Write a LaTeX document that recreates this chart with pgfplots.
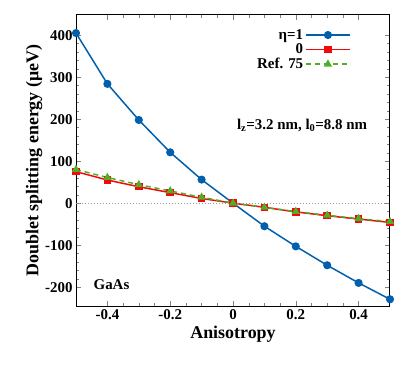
\documentclass[border=0pt]{standalone}
\usepackage{fontspec}
\setmainfont{Liberation Serif}
\usepackage{pgfplots}
\pgfplotsset{compat=1.18}
\definecolor{etaBlue}{RGB}{0,96,173}
\definecolor{zeroRed}{RGB}{240,10,10}
\definecolor{refGreen}{RGB}{80,175,40}

\begin{document}
\begin{tikzpicture}
  \begin{axis}[
      scale only axis,
      width=314bp, height=291bp,
      xmin=-0.5, xmax=0.5, ymin=-245, ymax=448,
      xtick={-0.4,-0.2,0,0.2,0.4},
      ytick={-200,-100,0,100,200,300,400},
      minor x tick num=3, minor y tick num=4,
      tick align=inside, tick pos=both,
      major tick length=5bp, minor tick length=3bp,
      axis line style={line width=1pt},
      /pgf/number format/assume math mode=true,
      /pgf/number format/fixed,
      ticklabel style={font=\fontsize{15}{17}\selectfont\bfseries},
      label style={font=\fontsize{18}{20}\selectfont\bfseries},
      xlabel={Anisotropy},
      ylabel={Doublet splitting energy (μeV)},
      ylabel shift=-4bp,
      legend plot pos=right,
      legend cell align=right,
      legend image code/.code={
        \draw[mark repeat=2, mark phase=2]
          plot coordinates {(0bp,0bp) (22bp,0bp) (44bp,0bp)};},
      legend style={draw=none, fill=none, font=\fontsize{15}{16}\selectfont\bfseries,
        at={(0.885,0.965)}, anchor=north east, row sep=-1pt},
    ]
    \addplot[etaBlue, line width=1.5pt, mark=*, mark size=3.3pt] coordinates {
      (-0.5,405) (-0.4,284) (-0.3,198) (-0.2,121) (-0.1,56) (0,0)
      (0.1,-55) (0.2,-103) (0.3,-148) (0.4,-190) (0.5,-229)};
    \addlegendentry{η=1}
    \addplot[zeroRed, line width=1.5pt, mark=square*, mark size=3pt] coordinates {
      (-0.5,75) (-0.4,55) (-0.3,39) (-0.2,25) (-0.1,11) (0,0)
      (0.1,-10) (0.2,-21) (0.3,-30) (0.4,-38) (0.5,-46)};
    \addlegendentry{0}
    \addplot[refGreen, line width=1.5pt, dash pattern=on 5pt off 4pt,
      mark=triangle*, mark size=3.3pt, mark options={solid}] coordinates {
      (-0.5,80) (-0.4,61) (-0.3,44) (-0.2,29) (-0.1,14) (0,0)
      (0.1,-10) (0.2,-20) (0.3,-29) (0.4,-37) (0.5,-44)};
    \addlegendentry{Ref. 75}
    \addplot[gray!80, dotted, line width=1pt, forget plot] coordinates {(-0.5,0) (0.5,0)};
    \node[font=\fontsize{15}{17}\selectfont\bfseries] at (axis cs:0.22,186)
      {l$_\mathbf{z}$=3.2 nm, l$_\mathbf{0}$=8.8 nm};
    \node[font=\fontsize{15}{17}\selectfont\bfseries, anchor=west] at (axis cs:-0.455,-195) {GaAs};
  \end{axis}
  \path ([shift={(-76bp,-65bp)}]current axis.south west) rectangle
        ([shift={(333bp,306bp)}]current axis.south west);
\end{tikzpicture}
\end{document}
